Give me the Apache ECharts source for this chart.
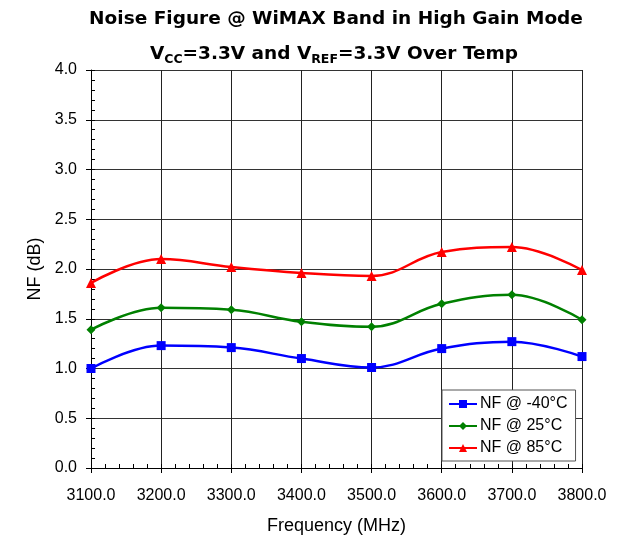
<!DOCTYPE html>
<html>
<head>
<meta charset="utf-8">
<script src="https://cdn.jsdelivr.net/npm/echarts@6/dist/echarts.min.js"></script>
<style>html,body{margin:0;padding:0;background:#fff;}#c{width:621px;height:544px;}</style>
</head>
<body>
<div id="c"></div>
<script>
const freqs = [3100, 3200, 3300, 3400, 3500, 3600, 3700, 3800];
const nfMinus40 = [1.00, 1.23, 1.21, 1.10, 1.01, 1.20, 1.27, 1.12];
const nf25 = [1.39, 1.61, 1.59, 1.47, 1.42, 1.65, 1.74, 1.49];
const nf85 = [1.86, 2.10, 2.02, 1.96, 1.93, 2.17, 2.22, 1.99];
const seriesNames = ['NF @ -40°C', 'NF @ 25°C', 'NF @ 85°C'];

const pair = arr => freqs.map((f, i) => [f, arr[i]]);
const FONT = 'Liberation Sans';
const TFONT = 'DejaVu Sans';

const chart = echarts.init(document.getElementById('c'), null, {renderer: 'canvas'});
chart.setOption({
  animation: false,
  backgroundColor: '#fff',
  title: [{
    text: 'Noise Figure @ WiMAX Band in High Gain Mode',
    left: 331, textAlign: 'center', top: 5,
    textStyle: {fontFamily: TFONT, fontWeight: 'bold', fontSize: 18.5, color: '#000'}
  }, {
    text: 'V{sub|CC}=3.3V and V{sub|REF}=3.3V Over Temp',
    left: 329, textAlign: 'center', top: 37,
    textStyle: {
      fontFamily: TFONT, fontWeight: 'bold', fontSize: 18.5, color: '#000', lineHeight: 24,
      rich: {
        sub: {fontFamily: TFONT, fontWeight: 'bold', fontSize: 12.5, color: '#000', verticalAlign: 'bottom', lineHeight: 14, padding: [16, 0, 0, 0]}
      }
    }
  }],
  grid: {left: 91, right: 39, top: 70, bottom: 76},
  legend: {
    left: 442, top: 390, orient: 'vertical',
    backgroundColor: '#fff', borderColor: '#555', borderWidth: 1,
    padding: [6, 8, 5, 6], itemGap: 6, itemWidth: 28, itemHeight: 10,
    textStyle: {fontFamily: FONT, fontSize: 16, color: '#000', padding: [0, 0, 0, -2]},
    data: seriesNames
  },
  xAxis: [{
    type: 'value', min: 3100, max: 3800, interval: 100,
    name: 'Frequency (MHz)', nameLocation: 'middle', nameGap: 49,
    nameTextStyle: {fontFamily: FONT, fontSize: 18, color: '#000'},
    axisLine: {lineStyle: {color: '#000', width: 1}},
    axisTick: {show: true, inside: false, length: 5, lineStyle: {color: '#000'}},
    axisLabel: {fontFamily: FONT, fontSize: 16, color: '#000', margin: 20, formatter: v => v.toFixed(1)},
    splitLine: {show: true, lineStyle: {color: '#222', width: 1}}
  }, {
    type: 'value', min: 3100, max: 3800, interval: 20, position: 'bottom',
    axisLine: {show: false}, axisLabel: {show: false}, splitLine: {show: false},
    axisTick: {show: true, inside: true, length: 4, lineStyle: {color: '#000'}}
  }],
  yAxis: [{
    type: 'value', min: 0, max: 4, interval: 0.5,
    name: 'NF (dB)', nameLocation: 'middle', nameGap: 45,
    nameTextStyle: {fontFamily: FONT, fontSize: 18, color: '#000'},
    axisLine: {show: true, lineStyle: {color: '#000', width: 1}},
    axisTick: {show: true, inside: false, length: 5, lineStyle: {color: '#000'}},
    axisLabel: {fontFamily: FONT, fontSize: 16, color: '#000', margin: 14, formatter: v => v.toFixed(1)},
    splitLine: {show: true, lineStyle: {color: '#333', width: 1}}
  }, {
    type: 'value', min: 0, max: 4, interval: 0.1, position: 'left',
    axisLine: {show: false}, axisLabel: {show: false}, splitLine: {show: false},
    axisTick: {show: true, inside: true, length: 4, lineStyle: {color: '#000'}}
  }],
  series: [{
    name: seriesNames[0], type: 'line', data: pair(nfMinus40), smooth: 0.4,
    symbol: 'rect', symbolSize: 9, color: '#0000ff',
    lineStyle: {width: 2.5, color: '#0000ff'}, itemStyle: {color: '#0000ff'}
  }, {
    name: seriesNames[1], type: 'line', data: pair(nf25), smooth: 0.4,
    symbol: 'diamond', symbolSize: 9, color: '#008000',
    lineStyle: {width: 2.5, color: '#008000'}, itemStyle: {color: '#008000'}
  }, {
    name: seriesNames[2], type: 'line', data: pair(nf85), smooth: 0.4,
    symbol: 'triangle', symbolSize: 10, color: '#ff0000',
    lineStyle: {width: 2.5, color: '#ff0000'}, itemStyle: {color: '#ff0000'}
  }]
});
</script>
</body>
</html>
